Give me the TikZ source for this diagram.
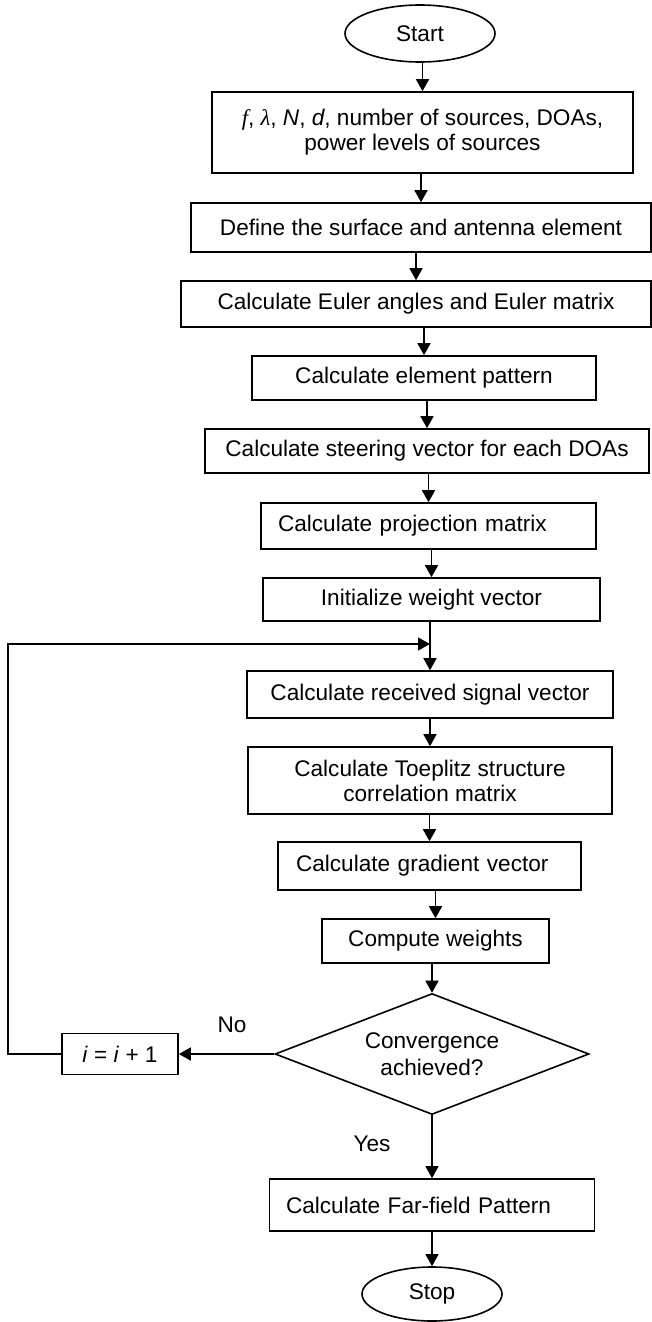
\documentclass[tikz,border=0pt]{standalone}
\usepackage{fontspec}
\setmainfont{Liberation Sans}
\newfontfamily\serifit{Liberation Serif}[ItalicFont=* Italic]
\usepackage{tikz}
\usetikzlibrary{shapes.geometric,arrows.meta}
\tikzset{
  proc/.style = {draw, line width=0.8pt, inner xsep=2pt, inner ysep=0pt, align=center,
    font=\fontsize{11.3}{12.5}\selectfont},
  lproc/.style = {proc, align=left, inner xsep=#1},
  term/.style = {proc, ellipse, inner sep=0pt},
  decide/.style = {proc, diamond, aspect=2.6, inner sep=0pt,
    font=\fontsize{11.3}{13.5}\selectfont},
  arr/.style = {line width=0.8pt, -{Triangle[length=6pt,width=6.5pt]}},
  lbl/.style = {font=\fontsize{11.3}{12.5}\selectfont}
}

\begin{document}
\begin{tikzpicture}[x=0.5pt,y=-0.5pt]
  \useasboundingbox (0,0) rectangle (652,1322);

  \node[term, minimum width=75pt, minimum height=28.5pt] (start) at (420,33.5) {Start};
  \node[proc, minimum width=210.5pt, minimum height=40.5pt] (input) at (422.5,132.5)
    {\textit{\serifit f}, \textit{\serifit λ}, \textit{N}, \textit{d}, number of sources, DOAs,\\power levels of sources};
  \node[proc, minimum width=230pt, minimum height=24.5pt] (surface) at (421,227.5) {Define the surface and antenna element};
  \node[proc, minimum width=235pt, minimum height=23pt] (euler) at (416,304) {Calculate Euler angles and Euler matrix};
  \node[proc, minimum width=172pt, minimum height=22pt] (element) at (424,378) {Calculate element pattern};
  \node[proc, minimum width=222pt, minimum height=22pt] (steer) at (427,451) {Calculate steering vector for each DOAs};
  \node[lproc=8.5pt, text width=150.5pt, minimum height=23pt] (proj) at (428.5,526) {Calculate projection matrix};
  \node[proc, minimum width=168.5pt, minimum height=21.5pt] (init) at (431.5,599.5) {Initialize weight vector};
  \node[proc, minimum width=183pt, minimum height=23.5pt] (recv) at (430,694.5) {Calculate received signal vector};
  \node[proc, minimum width=182pt, minimum height=33.5pt] (toep) at (430,780.5) {Calculate Toeplitz structure\\correlation matrix};
  \node[lproc=9pt, text width=133.5pt, minimum height=24pt] (grad) at (429.5,866) {Calculate gradient vector};
  \node[proc, minimum width=113.5pt, minimum height=22pt] (weights) at (435.5,941) {Compute weights};
  \node[decide, minimum width=157pt, minimum height=60.5pt] (conv) at (432,1054) {Convergence\\achieved?};
  \node[proc, minimum width=58pt, minimum height=20.5pt] (incr) at (120,1054) {\textit{i} = \textit{i} + 1};
  \node[lproc=8.25pt, text width=146pt, minimum height=26pt] (far) at (432,1205) {Calculate Far-field Pattern};
  \node[term, minimum width=70pt, minimum height=27pt] (stop) at (432,1294) {Stop};

  \foreach \a/\b in {start/input, input/surface, surface/euler, euler/element, element/steer,
                     steer/proj, proj/init, init/recv, recv/toep, toep/grad, grad/weights, weights/conv}
    \draw[arr] (\b.north |- \a.south) -- (\b.north);

  \draw[arr] (conv.south) -- (far.north);
  \draw[arr] (far.south) -- (stop.north);
  \draw[arr] (conv.west) -- (incr.east);

  % loop back
  \coordinate (back) at (8,644);
  \coordinate (loop) at (430,644);
  \draw[arr] (incr.west) -| (back) -- (loop);

  \node[lbl] (no) at (232,1025) {No};
  \node[lbl] (yes) at (372,1144) {Yes};
\end{tikzpicture}
\end{document}
